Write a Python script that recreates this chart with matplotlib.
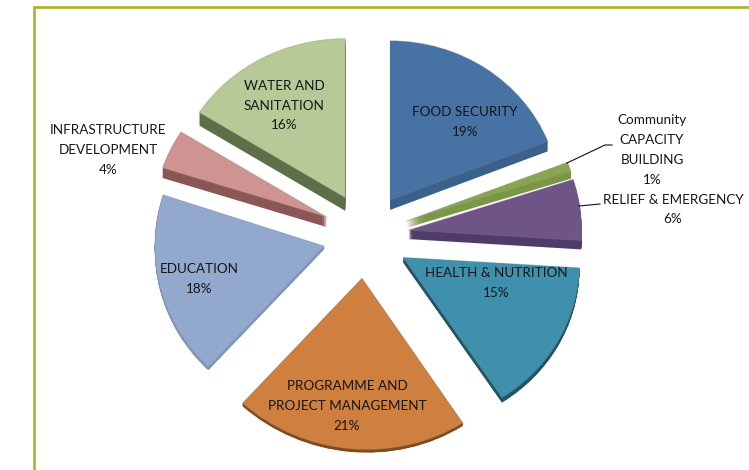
import matplotlib
matplotlib.use("Agg")
import matplotlib.pyplot as plt
from matplotlib.transforms import Affine2D

W, H = 749, 470

categories = ["FOOD SECURITY", "Community CAPACITY BUILDING", "RELIEF & EMERGENCY",
              "HEALTH & NUTRITION", "PROGRAMME AND PROJECT MANAGEMENT", "EDUCATION",
              "INFRASTRUCTURE DEVELOPMENT", "WATER AND SANITATION"]
shares = [19, 1, 6, 15, 21, 18, 4, 16]
label_lines = ["FOOD SECURITY", "Community\nCAPACITY\nBUILDING", "RELIEF & EMERGENCY",
               "HEALTH & NUTRITION", "PROGRAMME AND\nPROJECT MANAGEMENT", "EDUCATION",
               "INFRASTRUCTURE\nDEVELOPMENT", "WATER AND\nSANITATION"]

# styling
face_colors = ["#4672A4", "#8AA551", "#6F5488", "#3F90AC", "#D0803E", "#92A8CD", "#CF9391", "#B7C996"]
side_colors = ["#3A618E", "#7B9746", "#4F3B6A", "#1F5567", "#7F4A1C", "#7F98C2", "#8C5654", "#5E6F47"]
side_depth = [10, 7, 9, 5, 3, 3, 10, 13]
scale_x = [0.98, 1.0, 1.0, 1.02, 1.04, 0.98, 1.0, 1.0]
scale_y = [0.92, 0.92, 0.95, 0.96, 0.99, 0.96, 0.92, 0.92]
shear_x = [0, 0, 0, 0.03, 0.03, 0, 0, 0]
label_xy = [(465, 122), (652, 150), (673, 209.5), (496, 283), (347, 406), (199, 279), (108, 150), (284, 105.5)]
PIE_CENTER = (366, H - 235.5)
PIE_RADIUS = 173
EXPLODE = 43

plt.rcParams["font.family"] = ["Lato", "DejaVu Sans"]
fig = plt.figure(figsize=(W / 100, H / 100), dpi=100, facecolor="white")
ax = fig.add_axes([0, 0, 1, 1])


def draw_pie(colors, drop, z, edge="none", lw=0):
    wedges, _ = ax.pie(shares, colors=colors, explode=[EXPLODE] * len(shares),
                       center=PIE_CENTER, radius=PIE_RADIUS, startangle=90,
                       counterclock=False,
                       wedgeprops={"linewidth": lw, "edgecolor": edge, "zorder": z})
    for w, sx, sy, k, d in zip(wedges, scale_x, scale_y, shear_x, side_depth):
        cx, cy = w.center
        warp = Affine2D.from_values(sx, 0, -k, sy, 0, 0)
        tr = (Affine2D().translate(-cx, -cy) + warp
              + Affine2D().translate(cx, cy - d * drop) + ax.transData)
        w.set_transform(tr)


for step in range(10, 0, -1):
    draw_pie(side_colors, step / 10, 2)
draw_pie(face_colors, 0, 3, edge=(0.5, 0.5, 0.5, 0.35), lw=0.7)

ax.set_xlim(0, W)
ax.set_ylim(0, H)
ax.set_aspect("auto")
ax.axis("off")

# frame of the source document
ax.plot([33.5, 33.5, W + 5], [-5, H - 6.5, H - 6.5], color="#A9B41E", lw=1.9,
        solid_joinstyle="miter", zorder=1)

# leader lines
ax.plot([567, 605, 612], [H - 163, H - 145, H - 145], color="#111111", lw=0.8, zorder=4)
ax.plot([579, 600], [H - 206, H - 204], color="#111111", lw=0.8, zorder=4)

for line, share, (x, y) in zip(label_lines, shares, label_xy):
    ax.text(x, H - y, f"{line}\n{share}%", ha="center", va="center", fontsize=9.7,
            color="#161616", linespacing=1.78, zorder=5)

fig.savefig("out.png", dpi=100)
